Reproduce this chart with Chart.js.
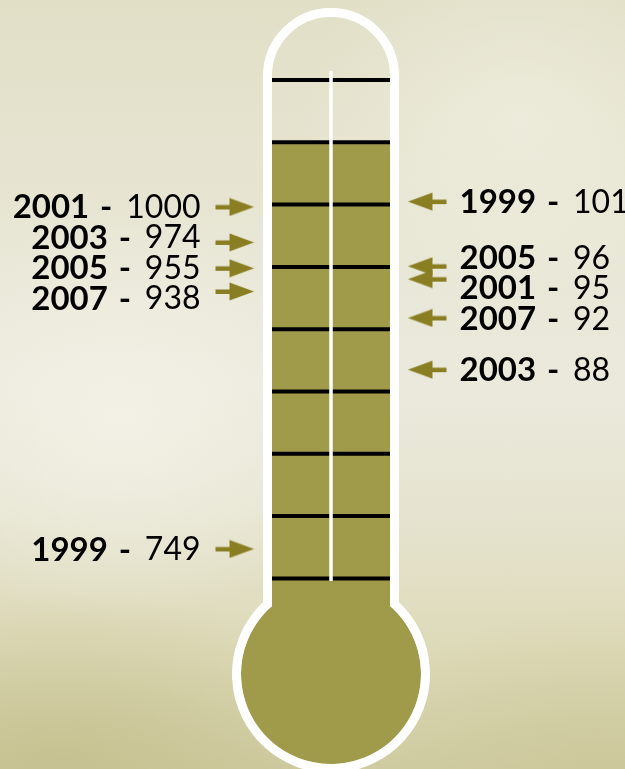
<!DOCTYPE html>
<html>
<head>
<meta charset="utf-8">
<script src="https://cdn.jsdelivr.net/npm/chart.js@4.4.1/dist/chart.umd.min.js"></script>
<style>
    html, body {
        margin: 0;
        padding: 0;
        width: 625px;
        height: 769px;
        overflow: hidden;
    }

    body {
        background-color: #e6e4d0;
        background-image:
            radial-gradient(ellipse 260px 200px at 120px 420px, rgba(245,244,234,0.75), rgba(245,244,234,0) 100%),
            radial-gradient(ellipse 220px 180px at 520px 120px, rgba(242,241,228,0.6), rgba(242,241,228,0) 100%),
            radial-gradient(ellipse 320px 170px at 60px 760px, rgba(190,184,128,0.55), rgba(190,184,128,0) 100%),
            radial-gradient(ellipse 260px 150px at 600px 760px, rgba(200,195,145,0.45), rgba(200,195,145,0) 100%),
            linear-gradient(to bottom, #e1dfc6 0%, #e8e6d4 30%, #ebe9dc 50%, #e6e4d0 66%, #dddab9 84%, #d0cca2 100%);
    }

    #wrap {
        position: relative;
        width: 625px;
        height: 769px;
    }

    #thermoChart {
        display: block;
    }
</style>
</head>
<body>
<div id="wrap">
    <canvas id="thermoChart" width="625" height="769"></canvas>
</div>
<script>
    // Left side of the thermometer
    const leftYears = ['2001', '2003', '2005', '2007', '1999'];
    const leftValues = [1000, 974, 955, 938, 749];

    // Right side of the thermometer
    const rightYears = ['1999', '2005', '2001', '2007', '2003'];
    const rightValues = [101, 96, 95, 92, 88];

    const arrowColor = '#8a7e22';
    const fillColor = '#a09a4b';
    const fontFamily = 'Lato, "DejaVu Sans", sans-serif';

    // x positions of the two arrow columns (on a 0..625 x scale)
    const LEFT_COL = 234.5;
    const RIGHT_COL = 427.5;

    function makeArrow(pointRight) {
        const c = document.createElement('canvas');
        c.width = 40;
        c.height = 19;
        const g = c.getContext('2d');
        g.fillStyle = arrowColor;

        if (pointRight) {
            g.fillRect(1, 7.5, 17, 4.5);
            g.beginPath();
            g.moveTo(15, 0.5);
            g.lineTo(39.5, 9.5);
            g.lineTo(15, 18.5);
            g.closePath();
            g.fill();
        } else {
            g.fillRect(22, 7.5, 17, 4.5);
            g.beginPath();
            g.moveTo(25, 0.5);
            g.lineTo(0.5, 9.5);
            g.lineTo(25, 18.5);
            g.closePath();
            g.fill();
        }
        return c;
    }

    // Thermometer body, drawn behind the arrows
    const thermometer = {
        id: 'thermometer',
        beforeDatasetsDraw(chart) {
            const ctx = chart.ctx;
            const cx = 331;
            const topY = 76;
            const bulbY = 674;

            ctx.save();

            // olive fill: tube from the second tick down + bulb
            ctx.fillStyle = fillColor;
            ctx.beginPath();
            ctx.rect(272, 144, 118, 480);
            ctx.fill();
            ctx.beginPath();
            ctx.arc(cx, bulbY, 90, 0, Math.PI * 2);
            ctx.fill();

            // white outline
            const half = 63.5;
            const r = 94.5;
            const dy = Math.sqrt(r * r - half * half);
            const a = Math.atan2(-dy, half);
            ctx.strokeStyle = '#ffffff';
            ctx.lineWidth = 9;
            ctx.beginPath();
            ctx.moveTo(cx - half, bulbY - dy);
            ctx.lineTo(cx - half, topY);
            ctx.arc(cx, topY, half, Math.PI, 0);
            ctx.lineTo(cx + half, bulbY - dy);
            ctx.arc(cx, bulbY, r, a, Math.PI - a, false);
            ctx.closePath();
            ctx.stroke();

            // tick lines
            ctx.strokeStyle = '#000000';
            ctx.lineWidth = 4;
            for (let k = 0; k < 9; k++) {
                const y = 80 + k * 62.3;
                ctx.beginPath();
                ctx.moveTo(272, y);
                ctx.lineTo(390, y);
                ctx.stroke();
            }

            // centre line
            ctx.strokeStyle = '#ffffff';
            ctx.lineWidth = 3.5;
            ctx.beginPath();
            ctx.moveTo(cx, 71);
            ctx.lineTo(cx, 581);
            ctx.stroke();

            ctx.restore();
        },
    };

    // push label rows apart so they do not overlap
    function spreadRows(ys, gap) {
        const order = ys.map((y, i) => i).sort((p, q) => ys[p] - ys[q]);
        const out = ys.slice();
        for (let it = 0; it < 60; it++) {
            for (let k = 1; k < order.length; k++) {
                const a = order[k - 1];
                const b = order[k];
                const d = gap - (out[b] - out[a]);
                if (d > 0) {
                    out[a] -= d / 2;
                    out[b] += d / 2;
                }
            }
        }
        return out;
    }

    // Year / value labels next to each arrow
    const sideLabels = {
        id: 'sideLabels',
        afterDatasetsDraw(chart) {
            const ctx = chart.ctx;
            ctx.save();
            ctx.textBaseline = 'middle';
            ctx.fillStyle = '#000000';

            const boldFont = 'bold 33px ' + fontFamily;
            const normFont = '32px ' + fontFamily;

            chart.data.datasets.forEach((ds, i) => {
                const meta = chart.getDatasetMeta(i);
                const rows = spreadRows(meta.data.map((pt) => pt.y), 30.5);

                meta.data.forEach((pt, j) => {
                    const year = ds.years[j];
                    const val = String(ds.data[j].y);
                    const y = rows[j] + 1;

                    ctx.font = boldFont;
                    const wYear = ctx.measureText(year).width;
                    ctx.font = normFont;
                    const wVal = ctx.measureText(val).width;
                    const total = wYear + 37 + wVal;

                    let x0;
                    if (ds.side === 'left') {
                        x0 = pt.x - 34 - total;
                    } else {
                        x0 = pt.x + 32;
                    }

                    ctx.font = boldFont;
                    ctx.textAlign = 'left';
                    ctx.fillText(year, x0, y);
                    ctx.textAlign = 'center';
                    ctx.fillText('-', x0 + wYear + 17, y);
                    ctx.font = normFont;
                    ctx.textAlign = 'left';
                    ctx.fillText(val, x0 + wYear + 37, y);
                });
            });

            ctx.restore();
        },
    };

    const arrowRight = makeArrow(true);
    const arrowLeft = makeArrow(false);

    const canvas = document.getElementById('thermoChart');

    new Chart(canvas, {
        type: 'scatter',
        data: {
            datasets: [
                {
                    label: 'left',
                    side: 'left',
                    years: leftYears,
                    data: leftValues.map((v) => ({ x: LEFT_COL, y: v })),
                    yAxisID: 'yLeft',
                    pointStyle: arrowRight,
                    pointRadius: 10,
                },
                {
                    label: 'right',
                    side: 'right',
                    years: rightYears,
                    data: rightValues.map((v) => ({ x: RIGHT_COL, y: v })),
                    yAxisID: 'yRight',
                    pointStyle: arrowLeft,
                    pointRadius: 10,
                },
            ],
        },
        options: {
            responsive: false,
            animation: false,
            devicePixelRatio: 1,
            layout: {
                autoPadding: false,
                padding: 0,
            },
            plugins: {
                legend: { display: false },
                tooltip: { enabled: false },
            },
            scales: {
                x: {
                    type: 'linear',
                    display: false,
                    min: 0,
                    max: 625,
                },
                yLeft: {
                    type: 'linear',
                    display: false,
                    position: 'left',
                    min: 587.5,
                    max: 1151.9,
                },
                yRight: {
                    type: 'linear',
                    display: false,
                    position: 'right',
                    min: 57.1,
                    max: 116.6,
                },
            },
        },
        plugins: [thermometer, sideLabels],
    });
</script>
</body>
</html>
